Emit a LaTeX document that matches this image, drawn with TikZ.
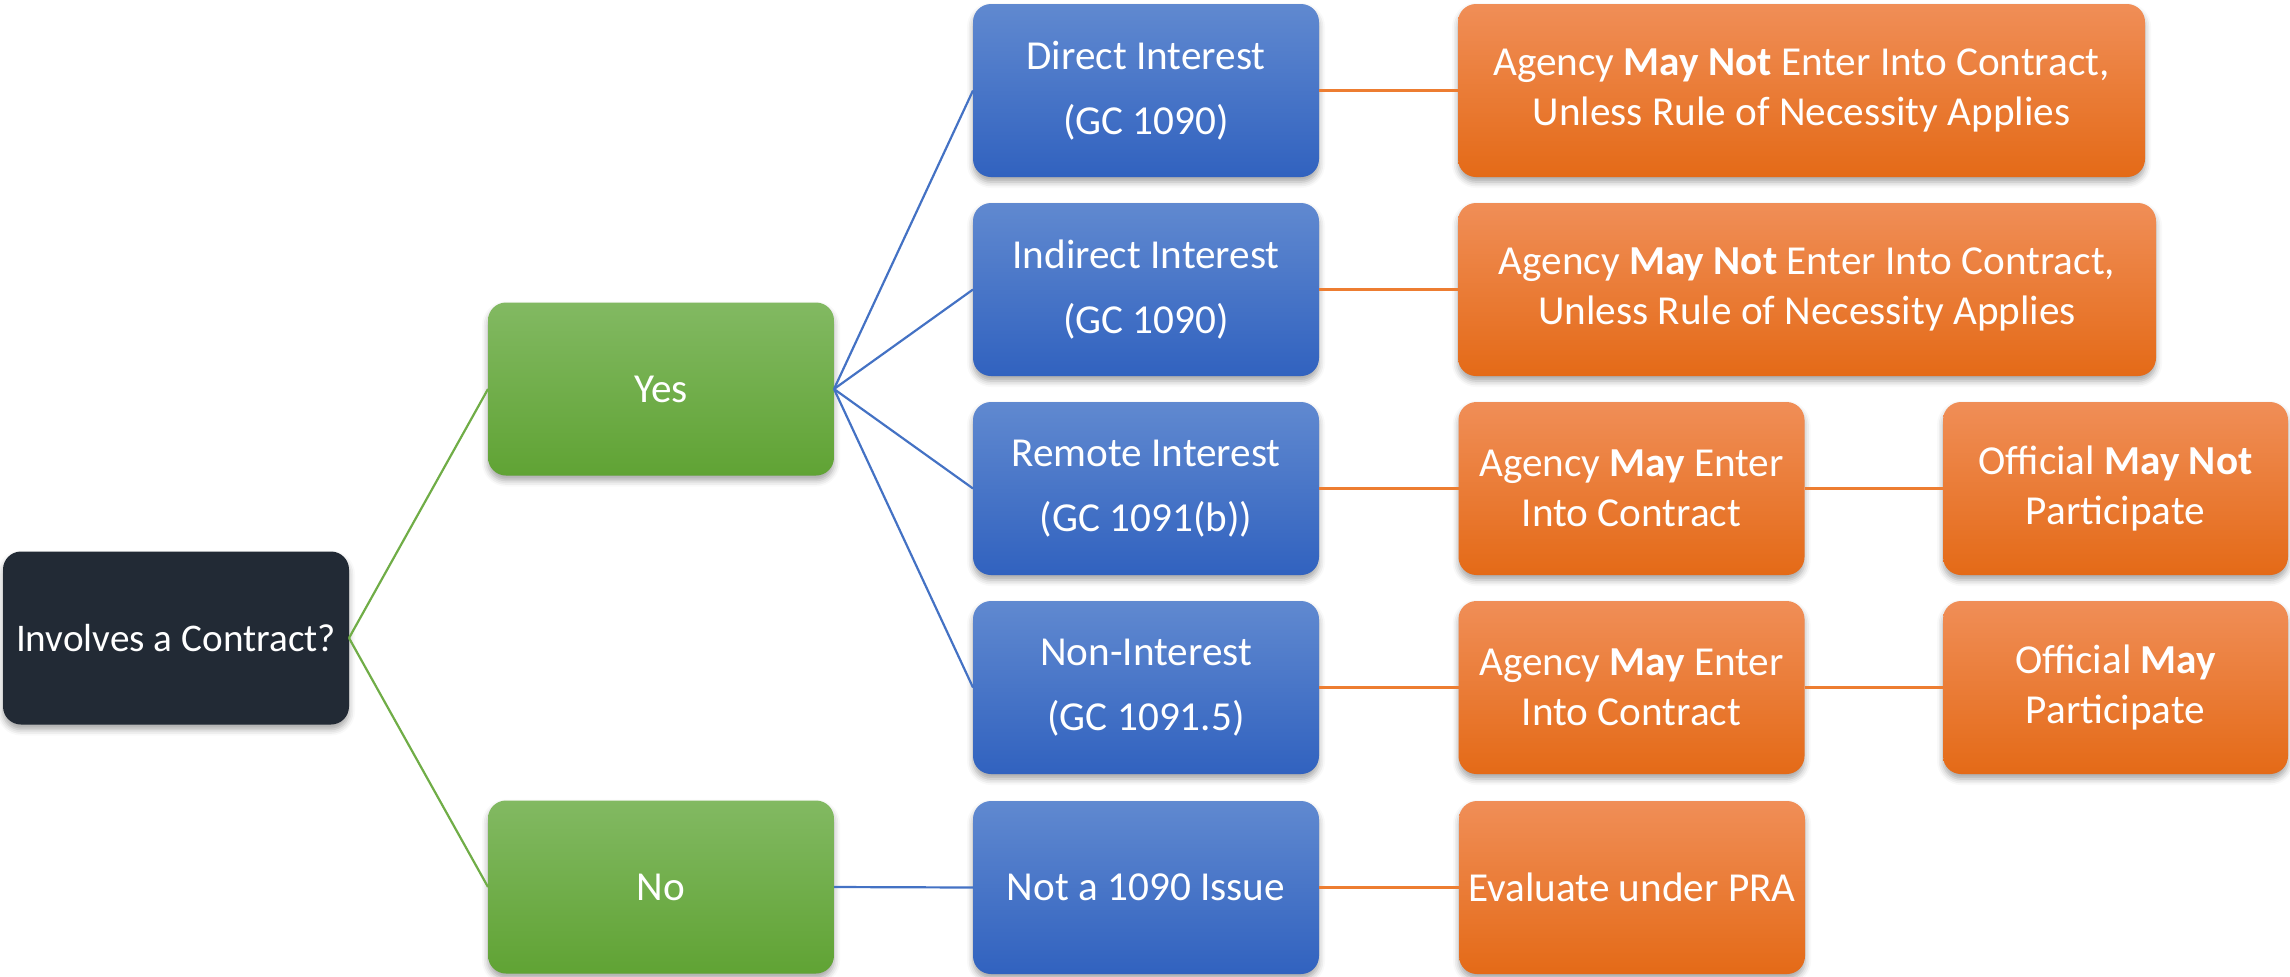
\documentclass[tikz,border=0pt]{standalone}
\usepackage{fontspec}
\setmainfont{Carlito}
\usetikzlibrary{shadows.blur}
\definecolor{navy}{HTML}{222A35}
\definecolor{greenT}{HTML}{82B962}
\definecolor{greenB}{HTML}{60A334}
\definecolor{blueT}{HTML}{6089D0}
\definecolor{blueB}{HTML}{3162BF}
\definecolor{orangeT}{HTML}{F08E57}
\definecolor{orangeB}{HTML}{E46A17}
\definecolor{greenLine}{HTML}{70AD47}
\definecolor{blueLine}{HTML}{4472C4}
\definecolor{orangeLine}{HTML}{ED7D31}
\tikzset{
  box/.style={rounded corners=9pt, minimum height=86.5pt, minimum width=173pt,
    inner sep=0pt, outer sep=0pt, align=center, text=white,
    font=\fontsize{20.6}{24.8}\selectfont,
    blur shadow={shadow xshift=0pt, shadow yshift=-2.5pt, shadow blur radius=3pt, shadow opacity=35}},
  rootbox/.style={box, fill=navy, font=\fontsize{19.6}{23.5}\selectfont},
  yesbox/.style={box, top color=greenT, bottom color=greenB},
  bluebox/.style={box, top color=blueT, bottom color=blueB},
  orangebox/.style={box, top color=orangeT, bottom color=orangeB},
  gline/.style={draw=greenLine, line width=1.1pt},
  bline/.style={draw=blueLine, line width=1.1pt},
  oline/.style={draw=orangeLine, line width=1.1pt},
}
\begin{document}
\begin{tikzpicture}[x=0.5pt, y=-0.5pt]
\useasboundingbox (0,0) rectangle (2290,976);

% root question
\node[rootbox] (root) at (176,638) {Involves a Contract?};

% yes / no branches
\node[yesbox] (yes) at (661,389) {Yes};
\node[yesbox] (no) at (661,887) {No};

% interest categories
\node[bluebox] (direct) at (1146,90.5) {Direct Interest\\[7.5pt](GC 1090)};
\node[bluebox] (indirect) at (1146,289.5) {Indirect Interest\\[7.5pt](GC 1090)};
\node[bluebox] (remote) at (1146,488.5) {Remote Interest\\[7.5pt](GC 1091(b))};
\node[bluebox] (nonint) at (1146,687.5) {Non-Interest\\[7.5pt](GC 1091.5)};
\node[bluebox] (notissue) at (1146,887.5) {Not a 1090 Issue};

% outcomes
\node[orangebox, minimum width=343.5pt] (dres) at (1801.5,90.5)
  {Agency \textbf{May Not} Enter Into Contract,\\Unless Rule of Necessity Applies};
\node[orangebox, minimum width=349pt] (ires) at (1807,289.5)
  {Agency \textbf{May Not} Enter Into Contract,\\Unless Rule of Necessity Applies};
\node[orangebox] (rres) at (1631.5,488.5) {Agency \textbf{May} Enter\\Into Contract};
\node[orangebox] (nres) at (1631.5,687.5) {Agency \textbf{May} Enter\\Into Contract};
\node[orangebox] (eval) at (1632,887.5) {Evaluate under PRA};
\node[orangebox, minimum width=172.5pt] (rpart) at (2115.5,488.5) {Official \textbf{May Not}\\Participate};
\node[orangebox, minimum width=172.5pt] (npart) at (2115.5,687.5) {Official \textbf{May}\\Participate};

% connectors
\draw[gline] (root.east) -- (yes.west);
\draw[gline] (root.east) -- (no.west);
\foreach \t in {direct,indirect,remote,nonint}
  \draw[bline] (yes.east) -- (\t.west);
\draw[bline] (no.east) -- (notissue.west);
\draw[oline] (direct.east) -- (dres.west);
\draw[oline] (indirect.east) -- (ires.west);
\draw[oline] (remote.east) -- (rres.west);
\draw[oline] (nonint.east) -- (nres.west);
\draw[oline] (notissue.east) -- (eval.west);
\draw[oline] (rres.east) -- (rpart.west);
\draw[oline] (nres.east) -- (npart.west);
\end{tikzpicture}
\end{document}
